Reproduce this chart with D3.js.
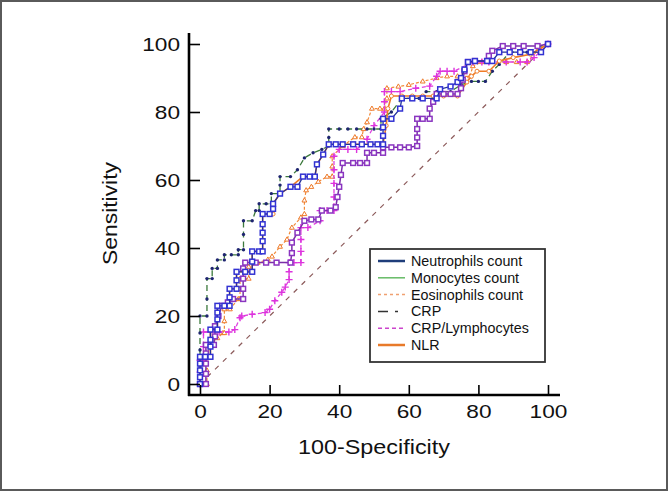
<!DOCTYPE html>
<html><head><meta charset="utf-8">
<script src="https://cdn.jsdelivr.net/npm/d3@7/dist/d3.min.js"></script>
<style>body{margin:0;background:#fff}svg{display:block}text{font-family:"Liberation Sans",Arial,sans-serif}</style>
</head><body>
<svg id="c" width="669" height="493"></svg>
<script>
// ---- data (100-Specificity, Sensitivity) ----
const neutrophils = [[0,0],[0,2],[0,4],[0,6],[0,8],[1.5,8],[3,8],[3,11],[3,13],[3,16],[5,16],[5,19],[5,21],[5,23],[7,23],[8.5,23],[8.5,25.5],[8.5,28],[10.5,28],[10.5,30.5],[10.5,33],[13,33],[15,33],[15,36],[15,39],[17,39],[18,39],[18,42],[18,44.5],[18,47],[18,50],[20,50],[21,51.5],[21,53],[23,56],[26,58],[28,58],[29.6,61],[31.5,61],[33,61],[33.6,64.6],[35.4,67.5],[37,70.5],[39,70.5],[41,70.5],[44,70.5],[46.5,70.5],[49,70.5],[51,70.5],[52.6,70.5],[52.6,73],[52.6,75.5],[52.6,78],[55,78],[57.5,81],[58,84],[61,84],[64,84],[68,84],[69,86.7],[72,87.5],[74,88.8],[75,90],[76,92.5],[77,94.7],[79,95],[82.5,95],[84,95],[86,97.6],[89,97.6],[92,97.6],[95,97.6],[98,97.6],[100,100]];
const monocytes = [[0,0],[1.7,0],[1.7,3],[1.7,6],[1.7,9],[1.7,11.5],[4,11.5],[4.3,14],[4.3,17],[5.3,20],[6.3,23],[8,24],[9.5,25],[12.4,25],[12.4,28],[12.4,31],[12.4,34],[13,35.7],[16,35.7],[19,35.7],[22,35.7],[26,35.7],[26.4,38.5],[26.4,41.6],[28,44.5],[30,48],[32,48.4],[34,48.4],[35,51],[37.5,51],[39,52],[39.5,55],[40,58],[40.5,61.5],[41,65],[44,65],[46,65],[48,65],[48,68],[50,68],[52.6,68],[52.6,69.6],[55,69.6],[57.5,69.6],[60,69.6],[62.4,70],[62.4,72.5],[62.4,75],[62.4,78],[64,78],[66,78],[66,81],[67,83],[68,85.3],[70,85.3],[72,85.3],[74,85.3],[75,87],[75.5,89.5],[76,92],[77,94.7],[79,95],[82.5,95],[83,96.5],[84,98],[87,99.4],[90,99.4],[93,99.4],[97,99.4],[100,100]];
const eosinophils = [[0,0],[2,0],[2,4],[2,8],[3,12],[5,13.5],[6.6,15],[7,15],[7,18.5],[7,22],[8.6,22],[11,25],[11.5,25],[11.5,28],[11.5,31],[14,31],[14,34.5],[16.6,35.7],[19.5,36.6],[20.7,37.5],[23,40.4],[25,42.5],[26.4,46],[29,49],[30,50],[30,54],[30.5,57],[32,58],[34,59.5],[36.5,61],[38,61],[38,64],[38,67],[41,70],[44.5,72.6],[46.5,72.6],[47,75],[48,77],[49.4,81],[51.7,81],[53,81],[53.7,84],[53.7,87],[57,87.5],[60,88],[64,89],[68,90],[71,90.5],[74,90.5],[77.6,90.5],[78.4,93.5],[81,94.7],[84,94.7],[88,94.7],[91,94.7],[94,94.7],[97,98],[100,100]];
const crp = [[0,0],[0,5],[0,10],[0,15],[0,20],[2,20],[2,25],[2,31],[3.5,31],[3.5,34],[5,34],[5,36.5],[7,36.5],[7,38],[9,38],[11,38],[11,39.5],[12.5,39.5],[12.5,44],[12.5,48],[15,48],[16,51],[17,51],[17,53],[19,53],[20.5,53],[20.5,56],[23,56],[23,58.5],[23,61],[26,61],[28,63],[30,66.5],[32.5,68],[35,69],[37,70],[37,72.5],[37,75],[40,75],[42.5,75],[45,75],[48,75],[50,75],[52,75],[52,78],[55,80],[58,84],[60.5,84],[63,84],[65,86],[68,86],[72,86],[75,88],[78,89],[80,89],[82,89],[84,92],[86,94],[89,97.6],[91.5,97.6],[94,97.6],[97,99],[100,100]];
const crpLymphocytes = [[0,0],[0,3.5],[0,7],[1,7],[1,11],[1,15.3],[3,15.3],[5.5,15.3],[8.3,15.3],[10,16],[11.5,19.5],[12,20],[15,20.5],[18.7,21],[20,22],[21.5,24.5],[23.5,27],[24.5,28.5],[25.6,30.7],[25.6,33],[25.6,35.7],[27,35.7],[29,35.7],[29,39],[29,42.5],[29,46],[31,46],[34.5,48],[34.5,51],[36.5,51],[38.5,51],[38.5,55],[38.5,59],[38.5,63],[38.5,67],[40,69],[42.5,69],[45,69],[48,72],[50,76],[53,80],[53,83],[53,86],[55,86],[57.5,86],[62,87],[66,87.6],[68,90.5],[69,92],[71,92],[73,92],[78.4,94.7],[81,94.7],[83,94.7],[88,94.7],[92,94.7],[94,94.7],[96,96],[100,100]];
const nlr = [[0,0],[0,8],[3,8],[3,16],[5,16],[5,23],[8.5,23],[8.5,28],[10.5,28],[10.5,33],[15,33],[15,39],[18,39],[18,50],[21,50],[21,53],[23,56],[26,58],[29.6,61],[33,61],[33.6,64.6],[35.4,67.5],[37,70.5],[44,70.5],[52.6,70.5],[53.5,76],[54,81],[55,84.7],[58,84.7],[61,84.7],[64,84.7],[67,84.7],[70,84.7],[74,84.7],[76.7,88.8],[78,90.5],[79.6,92],[83,92],[86,95],[90,96],[95,97],[100,100]];
const seriesNames = ["Neutrophils count","Monocytes count","Eosinophils count","CRP","CRP/Lymphocytes","NLR"];
const xTicks = [0,20,40,60,80,100];
const yTicks = [0,20,40,60,80,100];
const diagonal = [[0,0],[100,100]];

const svg = d3.select("#c");
const x = d3.scaleLinear().domain([0,100]).range([200,548]);
const y = d3.scaleLinear().domain([0,100]).range([384,44]);

// frame
svg.append("rect").attr("x",1).attr("y",1).attr("width",666).attr("height",489)
  .attr("fill","#fff").attr("stroke","#5a5a5a").attr("stroke-width",2);

const line = d3.line().x(d=>x(d[0])).y(d=>y(d[1]));

// diagonal reference
svg.append("path").datum(diagonal).attr("d",line).attr("fill","none")
  .attr("stroke","#8c5a5a").attr("stroke-width",1.2).attr("stroke-dasharray","5,6").attr("stroke-dashoffset",-10);

function drawSeries(data, lineStyle, marker){
  const g = svg.append("g");
  g.append("path").datum(data).attr("d",line).attr("fill","none")
    .attr("stroke",lineStyle.color).attr("stroke-width",lineStyle.width)
    .attr("stroke-dasharray",lineStyle.dash||null);
  const m = g.selectAll(".m").data(data).enter();
  if(marker.type==="square"){
    m.append("rect").attr("x",d=>x(d[0])-2.4).attr("y",d=>y(d[1])-2.4).attr("width",4.8).attr("height",4.8)
      .attr("fill","#fff").attr("stroke",marker.color).attr("stroke-width",1.5);
  } else if(marker.type==="plus"){
    m.append("path").attr("d",d=>`M${x(d[0])-3.5},${y(d[1])}h7M${x(d[0])},${y(d[1])-3.5}v7`)
      .attr("stroke",marker.color).attr("stroke-width",1.4).attr("fill","none");
  } else if(marker.type==="tri"){
    m.append("path").attr("d",d=>`M${x(d[0])},${y(d[1])-2.6}l2.4,4.2h-4.8z`)
      .attr("stroke",marker.color).attr("stroke-width",1).attr("fill","#fff");
  } else if(marker.type==="dot"){
    m.append("circle").attr("cx",d=>x(d[0])).attr("cy",d=>y(d[1])).attr("r",1.7).attr("fill",marker.color);
  } else if(marker.type==="circle"){
    m.append("circle").attr("cx",d=>x(d[0])).attr("cy",d=>y(d[1])).attr("r",2)
      .attr("fill","#fff").attr("stroke",marker.color).attr("stroke-width",1);
  }
}
drawSeries(eosinophils,{color:"#f28a3a",width:1.2,dash:"3,2"},{type:"tri",color:"#ee7a2a"});
drawSeries(crpLymphocytes,{color:"#e040e0",width:1.3,dash:"4,3"},{type:"plus",color:"#dd33dd"});
drawSeries(crp,{color:"#3c7a3c",width:1.3,dash:"6,4"},{type:"dot",color:"#1e2470"});
drawSeries(nlr,{color:"#ef7b25",width:1.6},{type:"circle",color:"#f08030"});
drawSeries(monocytes,{color:"#7b2fa8",width:1.5},{type:"square",color:"#8a35c0"});
drawSeries(neutrophils,{color:"#22309a",width:1.3},{type:"square",color:"#3232d2"});

// axes
const digitW = 12.6;
const gy = svg.append("g").attr("transform","translate(189,0)");
gy.call(d3.axisLeft(y).tickValues(d3.range(0,101,5)).tickSize(-6).tickFormat(""));
gy.call(d3.axisLeft(y).tickValues(yTicks).tickSize(-11).tickPadding(9));
gy.selectAll(".domain").remove();
gy.selectAll("line").attr("stroke","#000").attr("stroke-width",1.6);
gy.selectAll("text").attr("font-size",19).attr("fill","#111")
  .attr("textLength",d=>String(d).length*digitW).attr("lengthAdjust","spacingAndGlyphs");

const gx = svg.append("g").attr("transform","translate(0,395)");
gx.call(d3.axisBottom(x).tickValues(d3.range(0,101,5)).tickSize(-5).tickFormat(""));
gx.call(d3.axisBottom(x).tickValues(xTicks).tickSize(-10).tickPadding(10));
gx.selectAll(".domain").remove();
gx.selectAll("line").attr("stroke","#000").attr("stroke-width",1.6);
gx.selectAll("text").attr("font-size",19).attr("fill","#111")
  .attr("textLength",d=>String(d).length*digitW).attr("lengthAdjust","spacingAndGlyphs");

svg.append("line").attr("x1",189).attr("x2",189).attr("y1",33).attr("y2",396).attr("stroke","#000").attr("stroke-width",2.6);
svg.append("line").attr("x1",188).attr("x2",560).attr("y1",395).attr("y2",395).attr("stroke","#000").attr("stroke-width",2.6);

// axis titles
svg.append("text").attr("x",298).attr("y",454).attr("font-size",19.5).attr("fill","#111")
  .attr("textLength",152).attr("lengthAdjust","spacingAndGlyphs").text("100-Specificity");
svg.append("text").attr("transform","translate(117,265) rotate(-90)").attr("font-size",19.5).attr("fill","#111")
  .attr("textLength",103).attr("lengthAdjust","spacingAndGlyphs").text("Sensitivity");

// legend
const legendStyles = [
  {color:"#1f3d7a",width:2.5,dash:null},
  {color:"#66bb66",width:1.5,dash:null},
  {color:"#f0a070",width:1.5,dash:"3,3"},
  {color:"#333333",width:1.5,dash:"10,7,3,20"},
  {color:"#cc44cc",width:1.5,dash:"4,3"},
  {color:"#e87a2a",width:2.5,dash:null}
];
const lg = svg.append("g");
lg.append("rect").attr("x",370).attr("y",249).attr("width",175).attr("height",113)
  .attr("fill","#fff").attr("stroke","#333").attr("stroke-width",1.8);
seriesNames.forEach((n,i)=>{
  const by = 266 + i*16.8;
  lg.append("line").attr("x1",378).attr("x2",405).attr("y1",by-5).attr("y2",by-5)
    .attr("stroke",legendStyles[i].color).attr("stroke-width",legendStyles[i].width)
    .attr("stroke-dasharray",legendStyles[i].dash);
  lg.append("text").attr("x",411).attr("y",by).attr("font-size",14.3).attr("fill","#111").text(n);
});
</script>
</body></html>
